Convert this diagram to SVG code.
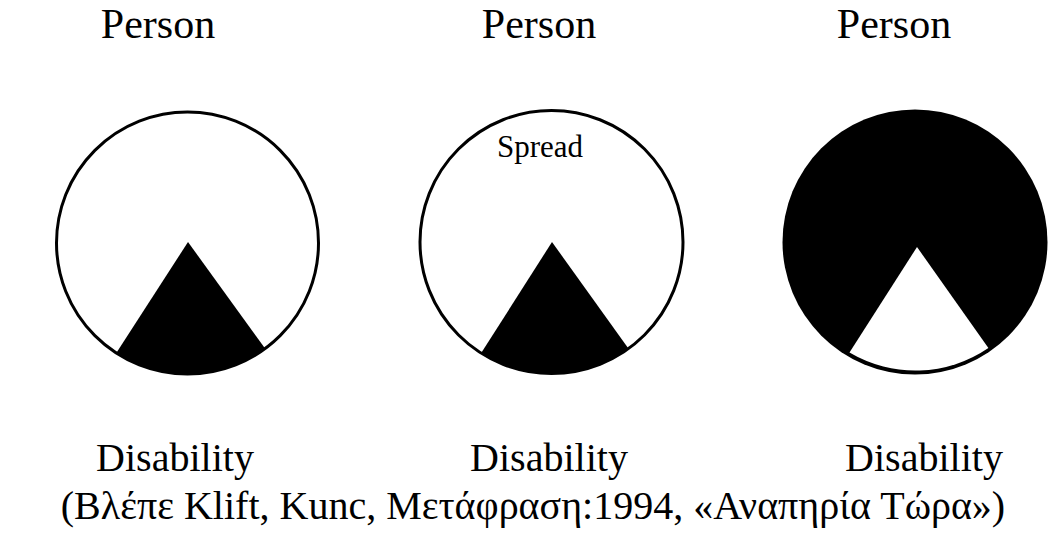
<svg xmlns="http://www.w3.org/2000/svg" width="1049" height="545" viewBox="0 0 1049 545">
<style>
.ring{fill:#fff;stroke:#000;stroke-width:3}
.blk{fill:#000}
.wht{fill:#fff}
</style>
<rect width="1049" height="545" fill="#fff"/>
<g id="labels-top" font-size="42" text-anchor="middle">
<text font-family="Liberation Serif" x="158" y="38">Person</text>
<text font-family="Liberation Serif" x="539" y="38">Person</text>
<text font-family="Liberation Serif" x="894" y="38">Person</text>
</g>
<g id="node-1">
<circle class="ring" cx="187.5" cy="243" r="131"/>
<path class="blk" d="M188 242 L116.3 353 A131 131 0 0 0 265.1 348.6 Z"/>
</g>
<g id="node-2">
<circle class="ring" cx="551.5" cy="242" r="131.5"/>
<path class="blk" d="M552 242 L481.2 353.1 A131.5 131.5 0 0 0 628.4 348.6 Z"/>
<text font-family="Liberation Serif" text-anchor="middle" x="540" y="157" font-size="31">Spread</text>
</g>
<g id="node-3">
<circle class="blk" cx="915" cy="242" r="132.5"/>
<path class="wht" d="M917 247 L849.5 352.6 A129.5 129.5 0 0 0 988.4 348 Z"/>
</g>
<g id="labels-bottom" font-size="40" text-anchor="middle">
<text font-family="Times New Roman" x="175" y="471">Disability</text>
<text font-family="Times New Roman" x="549" y="471">Disability</text>
<text font-family="Times New Roman" x="924" y="471">Disability</text>
<text font-family="Times New Roman" x="533" y="519">(Βλέπε Klift, Kunc, Μετάφραση:1994, «Αναπηρία Τώρα»)</text>
</g>
</svg>
